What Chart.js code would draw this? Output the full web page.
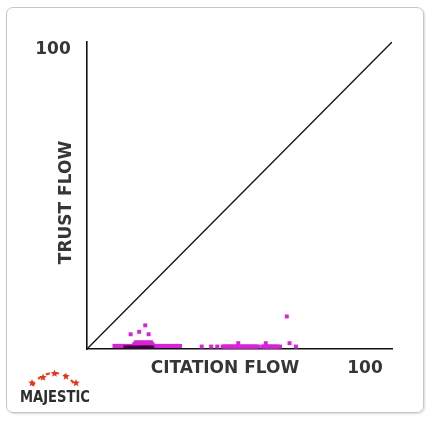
<!DOCTYPE html>
<html>
<head>
<meta charset="utf-8">
<script src="https://cdn.jsdelivr.net/npm/chart.js@4/dist/chart.umd.min.js"></script>
<style>
  html, body { margin: 0; padding: 0; background: #fff; }
  #frame {
    position: absolute; left: 6px; top: 7px; width: 416px; height: 404px;
    border: 1px solid #c6c6c6; border-radius: 7px;
    box-shadow: 1px 1px 2px rgba(0,0,0,0.15);
  }
  #wrap { position: absolute; left: 0; top: 0; width: 433px; height: 421px; }
</style>
</head>
<body>
<div id="frame"></div>
<div id="wrap"><canvas id="flowChart" width="433" height="421"></canvas></div>
<script>
// サイトごとの Citation Flow / Trust Flow（読み取り値）
const citationFlow = [
  9, 9.5, 10, 10.5, 11, 11.5, 12, 12.5, 13, 13.5, 14, 14.5, 15, 22, 22.5, 23, 23.5, 24, 24.5,
  25, 25.5, 26, 26.5, 27, 27.5, 28, 28.5, 29, 29.5, 30, 30.5,
  15.5, 16, 16.5, 17, 17.5, 18, 18.5, 19, 19.5, 20, 20.5, 21, 21.5,
  16, 17, 18, 19, 20, 21,
  14.3, 17.1, 19.1, 20.2,
  37.6, 40.7, 42.7, 44.5, 45, 45.5, 46, 46.5, 47, 47.5, 48, 48.5, 49, 49.5, 50, 50.5, 51,
  51.5, 52, 52.5, 53, 53.5, 54, 54.5, 55, 55.5, 56.2,
  57.5, 58, 58.5, 59, 59.5, 60, 60.5, 61, 61.5, 62, 62.5, 63.3, 68.5,
  49.6, 58.6, 66.4, 65.5
];
const trustFlow = [
  1, 1, 1, 1, 1, 1, 1, 1, 1, 1, 1, 1, 1, 1, 1, 1, 1, 1, 1,
  1, 1, 1, 1, 1, 1, 1, 1, 1, 1, 1, 1,
  1.6, 1.6, 1.6, 1.6, 1.6, 1.6, 1.6, 1.6, 1.6, 1.6, 1.6, 1.6, 1.6,
  2.2, 2.2, 2.2, 2.2, 2.2, 2.2,
  4.8, 5.6, 7.7, 4.8,
  0.8, 0.8, 0.8, 0.8, 0.8, 0.8, 0.8, 0.8, 0.8, 0.8, 0.8, 0.8, 0.8, 0.8, 0.8, 0.8, 0.8,
  0.8, 0.8, 0.8, 0.8, 0.8, 0.8, 0.8, 0.8, 0.8, 0.8,
  0.8, 0.8, 0.8, 0.8, 0.8, 0.8, 0.8, 0.8, 0.8, 0.8, 0.8, 0.8, 0.8,
  1.9, 1.9, 1.9, 10.6
];
// 重なって黒っぽく見える部分
const darkCF = [12.5, 13.5, 14.5, 15.5, 16.5, 17.5, 18.5, 19.5, 20.5, 21.5];
const darkTF = [0.6, 0.6, 0.6, 0.6, 0.6, 0.6, 0.6, 0.6, 0.6, 0.6];

// 対角線（CF = TF）
const diagonal = [{ x: 0, y: 0 }, { x: 100, y: 100 }];

const toPoints = (xs, ys) => xs.map((x, i) => ({ x: x, y: ys[i] }));

const textColor = '#363636';
const labelFont = 'bold 17px "DejaVu Sans", Verdana, sans-serif';

// ラベルとロゴを描くプラグイン
const flowLabels = {
  id: 'flowLabels',
  afterDraw(chart) {
    const ctx = chart.ctx;
    const area = chart.chartArea;
    ctx.save();
    ctx.fillStyle = textColor;
    ctx.font = labelFont;
    ctx.textBaseline = 'middle';
    ctx.textAlign = 'center';
    ctx.fillText('100', area.left - 34, area.top + 8);
    ctx.fillText('100', area.right - 27, area.bottom + 20);
    ctx.fillText('CITATION FLOW', area.left + 138, area.bottom + 20);
    ctx.translate(area.left - 20, (area.top + area.bottom) / 2 + 7);
    ctx.rotate(-Math.PI / 2);
    ctx.fillText('TRUST FLOW', 0, 0);
    ctx.restore();

    // MAJESTIC ロゴ
    ctx.save();
    ctx.fillStyle = '#2e2e2e';
    ctx.font = 'bold 15px "DejaVu Sans", Verdana, sans-serif';
    ctx.textAlign = 'left';
    ctx.textBaseline = 'alphabetic';
    ctx.fillText('MAJESTIC', 20, 402, 70);
    ctx.strokeStyle = '#e8401e';
    ctx.lineWidth = 2.2;
    ctx.setLineDash([4, 5]);
    ctx.beginPath();
    ctx.arc(54, 397, 24, Math.PI * 1.15, Math.PI * 1.85);
    ctx.stroke();
    ctx.setLineDash([]);
    ctx.fillStyle = '#e8321e';
    [[32, 383], [43, 377.5], [54.5, 373.5], [66, 376.5], [76, 383]].forEach(([sx, sy]) => {
      ctx.beginPath();
      for (let k = 0; k < 10; k++) {
        const r = k % 2 === 0 ? 4 : 1.7;
        const a = -Math.PI / 2 + k * Math.PI / 5;
        ctx.lineTo(sx + r * Math.cos(a), sy + r * Math.sin(a));
      }
      ctx.closePath();
      ctx.fill();
    });
    ctx.restore();
  }
};

const ctx = document.getElementById('flowChart').getContext('2d');
const flowChart = new Chart(ctx, {
  type: 'scatter',
  data: {
    datasets: [
      {
        type: 'line',
        data: diagonal,
        borderColor: '#111',
        borderWidth: 1.3,
        pointRadius: 0,
        fill: false,
        order: 3
      },
      {
        data: toPoints(citationFlow, trustFlow),
        backgroundColor: 'rgb(214, 36, 214)',
        borderWidth: 0,
        pointStyle: 'rect',
        pointRadius: 2.8,
        clip: false,
        order: 2
      },
      {
        data: toPoints(darkCF, darkTF),
        backgroundColor: 'rgb(60, 0, 60)',
        borderWidth: 0,
        pointStyle: 'rect',
        pointRadius: 2.4,
        clip: false,
        order: 1
      }
    ]
  },
  options: {
    responsive: false,
    animation: false,
    events: [],
    layout: { padding: { left: 87, top: 42, right: 41, bottom: 72 } },
    plugins: { legend: { display: false }, tooltip: { enabled: false } },
    scales: {
      x: {
        type: 'linear', min: 0, max: 100,
        grid: { display: false, drawTicks: false },
        border: { display: true, color: '#111', width: 1.6 },
        ticks: { display: false }
      },
      y: {
        type: 'linear', min: 0, max: 100,
        grid: { display: false, drawTicks: false },
        border: { display: true, color: '#111', width: 1.6 },
        ticks: { display: false }
      }
    }
  },
  plugins: [flowLabels]
});
</script>
</body>
</html>
